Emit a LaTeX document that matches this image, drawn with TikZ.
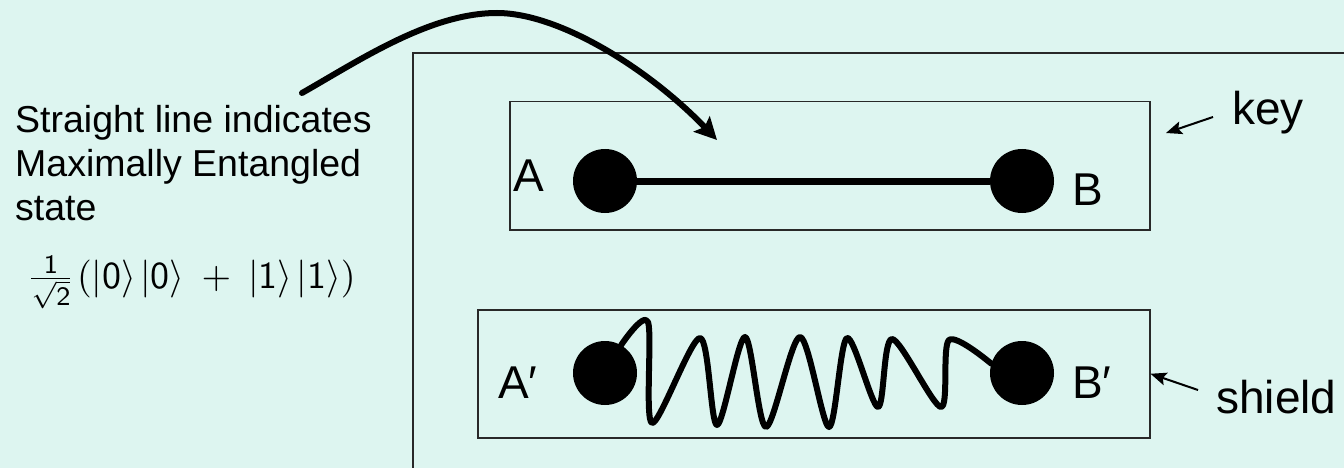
\documentclass[tikz,border=0pt]{standalone}
\usepackage{fontspec}
\setmainfont{Liberation Sans}
\usetikzlibrary{arrows.meta}
\definecolor{bg}{RGB}{221,245,240}
\definecolor{framec}{RGB}{40,40,40}
\begin{document}
\begin{tikzpicture}[x=1pt,y=-1pt,
  box/.style={draw=framec, line width=1.5pt},
  dot/.style={circle, fill=black, minimum size=64pt, inner sep=0pt},
  lbl/.style={anchor=base west, inner sep=0pt, font=\fontsize{46}{50}\selectfont},
  note/.style={anchor=base west, inner sep=0pt, align=left, font=\fontsize{37.5}{44}\selectfont},
  bond/.style={line width=7pt},
  spring/.style={line width=6pt, line join=round, line cap=round},
  pointer/.style={line width=2pt, -{Stealth[length=16pt,width=13pt,inset=3pt]}},
  bigpointer/.style={line width=6pt, line cap=round, -{Stealth[length=22pt,width=22pt,inset=4pt]}}]
\fill[bg] (0,0) rectangle (1344,468);
\useasboundingbox (0,0) rectangle (1344,468);
\begin{scope}
\clip (0,0) rectangle (1344,468);
\draw[box] (413,53) rectangle (1400,520);
\end{scope}
% left note
\node[note] (txt) at (15,220) {Straight line indicates\\Maximally Entangled\\state};
\node[anchor=base west, inner sep=0pt, transform shape, scale=3.8] (formula) at (26,288)
  {$\frac{\mathsf{1}}{\sqrt{\mathsf{2}}}\mkern1mu(|\mathsf{0}\rangle\mkern2mu|\mathsf{0}\rangle\mkern4mu+\mkern4mu|\mathsf{1}\rangle\mkern2mu|\mathsf{1}\rangle)$};
% boxes
\node[box, anchor=north west, minimum width=640pt, minimum height=128pt, inner sep=0pt] (keybox) at (509,101) {};
\node[box, anchor=north west, minimum width=672pt, minimum height=128pt, inner sep=0pt] (shieldbox) at (477,309) {};
% dots
\node[dot] (A) at (605,181) {};
\node[dot] (B) at (1022,181) {};
\node[dot] (Ap) at (605,373) {};
\node[dot] (Bp) at (1022,373) {};
\draw[bond] (A) -- (B);
\draw[spring] plot[smooth, tension=0.5] coordinates {(Ap.60) (648,322) (652,423) (700,338) (717,425) (745,337) (766,427) (800,337) (829,427) (847,338) (878,407) (892,339) (941,407) (949,340) (Bp.163)};
% labels
\node[lbl] (la) at (513,191) {A};
\node[lbl] (lb) at (1072,205) {B};
\node[lbl] (lap) at (498,398) {A′};
\node[lbl] (lbp) at (1072,398) {B′};
\node[lbl] (key) at (1232,125) {key};
\node[lbl] (shield) at (1216,413) {shield};
% pointers
\coordinate (keytail) at (1213,117);
\coordinate (keytip) at (1166,133);
\draw[pointer] (keytail) -- (keytip);
\coordinate (shieldtail) at (1198,390);
\draw[pointer] (shieldtail) -- (shieldbox.east);
\coordinate (cstart) at (302,93);
\coordinate (ctip) at (717,140);
\draw[bigpointer] (cstart) .. controls (360,60) and (430,13) .. (497,13) .. controls (560,13) and (650,70) .. (ctip);
\end{tikzpicture}
\end{document}
